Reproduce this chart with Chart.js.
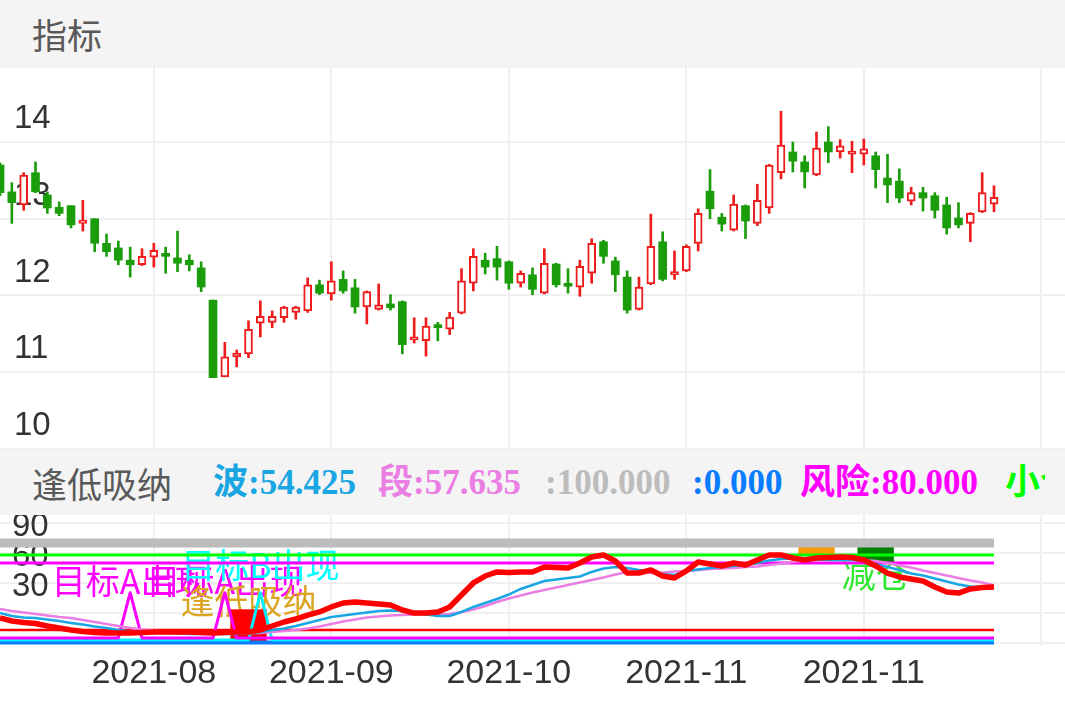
<!DOCTYPE html>
<html>
<head>
<meta charset="utf-8">
<script src="https://cdn.jsdelivr.net/npm/chart.js@4.4.0/dist/chart.umd.min.js"></script>
<style>
  html, body { margin: 0; padding: 0; background: #fff; }
  body { width: 1065px; height: 708px; position: relative; overflow: hidden; font-family: "Noto Sans CJK SC", sans-serif; }
  .bar { position: absolute; left: 0; width: 1065px; background: #f4f4f4; }
  .title { position: absolute; left: 32px; top: 0; font-size: 35px; color: #595959; }
  .legend { position: absolute; left: 0; top: 0; width: 1045px; height: 100%; overflow: hidden; }
  .legend span { position: absolute; top: 0; font: bold 35px "Liberation Serif", "Noto Sans CJK SC", serif; white-space: nowrap; }
  canvas { position: absolute; left: 0; }
</style>
</head>
<body>
<div class="bar" style="top:0;height:68px"><span class="title" style="line-height:68px">指标</span></div>
<canvas id="kline" width="1065" height="382" style="top:68px"></canvas>
<div class="bar" style="top:450px;height:65px">
  <span class="title" style="line-height:65px">逢低吸纳</span>
  <div class="legend" id="legend"></div>
</div>
<canvas id="sub" width="1065" height="193" style="top:515px"></canvas>
<script>
// daily candles
const openVals = [13.70, 13.35, 13.18, 13.60, 13.31, 13.15, 13.17, 12.94, 13.00, 12.68,
  12.62, 12.46, 12.40, 12.50, 12.55, 12.49, 12.46, 12.36, 11.94, 10.94,
  11.20, 11.24, 11.64, 11.65, 11.71, 11.78, 11.80, 12.14, 12.02, 12.21,
  12.10, 11.85, 11.82, 11.89, 11.92, 11.42, 11.41, 11.62, 11.56, 11.77,
  12.16, 12.46, 12.48, 12.44, 12.16, 12.27, 12.03, 12.41, 12.16, 12.11,
  12.29, 12.70, 12.45, 12.24, 11.82, 12.15, 12.70, 12.27, 12.32, 12.68,
  13.36, 13.02, 12.85, 13.17, 12.94, 13.14, 13.60, 13.87, 13.74, 13.57,
  14.00, 13.87, 13.84, 13.84, 13.82, 13.53, 13.49, 13.23, 13.34, 13.30,
  13.18, 13.01, 12.94, 13.09, 13.19];
const highVals = [13.73, 13.47, 13.60, 13.74, 13.35, 13.22, 13.17, 13.24, 13.00, 12.80,
  12.71, 12.63, 12.61, 12.68, 12.63, 12.84, 12.53, 12.44, 11.94, 11.39,
  11.29, 11.67, 11.93, 11.80, 11.86, 11.86, 12.23, 12.20, 12.44, 12.32,
  12.21, 12.06, 12.15, 12.01, 11.93, 11.71, 11.71, 11.65, 11.78, 12.35,
  12.61, 12.55, 12.64, 12.45, 12.32, 12.36, 12.61, 12.42, 12.35, 12.46,
  12.74, 12.72, 12.50, 12.32, 12.24, 13.06, 12.83, 12.58, 12.66, 13.13,
  13.64, 13.07, 13.31, 13.18, 13.45, 13.71, 14.40, 14.00, 13.82, 14.13,
  14.20, 14.03, 14.01, 14.04, 13.87, 13.84, 13.65, 13.41, 13.41, 13.34,
  13.28, 13.21, 13.08, 13.60, 13.43];
const lowVals = [13.30, 12.94, 13.11, 13.34, 13.07, 13.04, 12.88, 12.84, 12.57, 12.51,
  12.40, 12.24, 12.39, 12.37, 12.29, 12.31, 12.32, 12.05, 10.93, 10.94,
  11.07, 11.19, 11.46, 11.58, 11.65, 11.69, 11.78, 12.01, 11.94, 12.03,
  11.77, 11.63, 11.81, 11.81, 11.24, 11.38, 11.21, 11.41, 11.49, 11.76,
  12.06, 12.28, 12.20, 12.08, 12.11, 12.01, 12.02, 12.11, 12.03, 11.99,
  12.16, 12.42, 12.05, 11.77, 11.81, 12.14, 12.19, 12.21, 12.31, 12.58,
  13.00, 12.84, 12.84, 12.74, 12.91, 13.07, 13.52, 13.61, 13.40, 13.56,
  13.73, 13.79, 13.60, 13.70, 13.40, 13.21, 13.21, 13.18, 13.10, 13.01,
  12.80, 12.88, 12.70, 13.08, 13.09];
const closeVals = [13.34, 13.21, 13.57, 13.35, 13.14, 13.07, 12.92, 12.98, 12.68, 12.57,
  12.46, 12.40, 12.51, 12.59, 12.51, 12.42, 12.40, 12.11, 10.93, 11.20,
  11.25, 11.56, 11.73, 11.73, 11.85, 11.85, 12.14, 12.03, 12.19, 12.06,
  11.85, 12.05, 11.88, 11.84, 11.36, 11.46, 11.60, 11.58, 11.72, 12.19,
  12.51, 12.37, 12.37, 12.16, 12.29, 12.08, 12.42, 12.14, 12.12, 12.38,
  12.68, 12.51, 12.27, 11.81, 12.11, 12.64, 12.21, 12.31, 12.64, 13.07,
  13.13, 12.93, 13.19, 12.97, 13.24, 13.70, 13.96, 13.75, 13.61, 13.92,
  13.87, 13.95, 13.88, 13.91, 13.64, 13.44, 13.27, 13.34, 13.27, 13.11,
  12.88, 12.92, 13.07, 13.34, 13.28];

// indicator panel
const mainVals = [24.6, 21.6, 20.1, 19.1, 16.6, 14.6, 12.6, 11.1, 10.1, 9.5,
  9.5, 9.5, 10.1, 10.6, 10.6, 10.6, 10.6, 10.1, 9.5, 10.1,
  10.6, 10.6, 12.6, 16.6, 20.6, 23.6, 27.6, 30.7, 35.7, 39.7,
  40.7, 39.7, 38.7, 37.7, 32.7, 29.6, 29.6, 30.7, 35.7, 47.7,
  59.8, 66.8, 70.9, 70.4, 70.9, 70.9, 75.9, 75.4, 74.9, 79.9,
  85.9, 87.9, 81.9, 69.8, 69.8, 72.9, 66.8, 64.8, 71.9, 80.9,
  78.9, 76.9, 79.9, 77.9, 82.9, 87.9, 87.9, 84.9, 82.9, 84.9,
  85.4, 85.9, 85.4, 82.9, 76.9, 69.8, 65.8, 63.8, 61.8, 55.8,
  50.8, 49.7, 53.8, 55.3, 55.8];
const waveVals = [29.6, 26.6, 25.1, 24.6, 23.1, 21.6, 19.6, 18.1, 16.1, 14.6,
  12.6, 11.1, 10.1, 9.5, 9.5, 9.0, 8.5, 8.5, 8.5, 8.5,
  8.5, 9.0, 10.6, 12.6, 14.1, 16.6, 19.6, 22.6, 25.6, 27.1,
  28.6, 30.2, 31.7, 32.2, 31.7, 30.2, 28.1, 26.6, 26.6, 30.7,
  35.7, 39.7, 43.7, 48.2, 53.8, 57.8, 61.8, 63.3, 64.8, 66.3,
  70.9, 74.4, 75.9, 74.9, 72.9, 71.4, 68.8, 67.8, 71.9, 73.4,
  74.9, 75.9, 76.9, 77.9, 79.9, 82.4, 83.9, 84.4, 84.4, 83.4,
  82.9, 82.9, 82.9, 81.9, 78.9, 75.9, 72.9, 69.3, 67.3, 64.3,
  61.3, 58.3, 56.3, 55.3, 54.425];
const bandVals = [33.7, 31.7, 30.2, 28.6, 27.1, 25.6, 24.6, 22.6, 20.6, 18.6,
  16.6, 14.6, 13.1, 12.1, 10.6, 10.1, 9.5, 9.5, 9.0, 9.0,
  9.0, 9.0, 9.5, 10.6, 11.6, 12.6, 14.1, 16.1, 18.6, 21.1,
  23.1, 25.1, 26.1, 27.1, 27.6, 28.1, 28.1, 28.1, 28.6, 30.7,
  33.2, 36.7, 40.7, 44.2, 47.2, 50.3, 52.8, 55.3, 57.8, 60.3,
  62.8, 65.3, 68.3, 70.9, 70.4, 69.8, 70.4, 71.4, 71.9, 72.9,
  73.9, 74.4, 74.9, 75.9, 76.4, 77.9, 79.4, 80.9, 82.4, 82.9,
  83.4, 83.6, 83.4, 82.9, 81.9, 79.9, 77.4, 75.4, 72.4, 69.8,
  67.3, 64.8, 62.3, 60.3, 57.635];
// "目标A" / "目标B" signal lines (spikes)
const targetAVals = [4.5, 4.5, 4.5, 4.5, 4.5, 4.5, 4.5, 4.5, 4.5, 4.5,
  4.5, 50, 4.5, 4.5, 4.5, 4.5, 4.5, 4.5, 4.5, 50,
  4.5, 4.5, 4.5, 4.5, 4.5, 4.5, 4.5, 4.5, 4.5, 4.5,
  4.5, 4.5, 4.5, 4.5, 4.5, 4.5, 4.5, 4.5, 4.5, 4.5,
  4.5, 4.5, 4.5, 4.5, 4.5, 4.5, 4.5, 4.5, 4.5, 4.5,
  4.5, 4.5, 4.5, 4.5, 4.5, 4.5, 4.5, 4.5, 4.5, 4.5,
  4.5, 4.5, 4.5, 4.5, 4.5, 4.5, 4.5, 4.5, 4.5, 4.5,
  4.5, 4.5, 4.5, 4.5, 4.5, 4.5, 4.5, 4.5, 4.5, 4.5,
  4.5, 4.5, 4.5, 4.5, 4.5];
const targetBVals = [2.5, 2.5, 2.5, 2.5, 2.5, 2.5, 2.5, 2.5, 2.5, 2.5,
  2.5, 2.5, 2.5, 2.5, 2.5, 2.5, 2.5, 2.5, 2.5, 2.5,
  2.5, 2.5, 50, 2.5, 2.5, 2.5, 2.5, 2.5, 2.5, 2.5,
  2.5, 2.5, 2.5, 2.5, 2.5, 2.5, 2.5, 2.5, 2.5, 2.5,
  2.5, 2.5, 2.5, 2.5, 2.5, 2.5, 2.5, 2.5, 2.5, 2.5,
  2.5, 2.5, 2.5, 2.5, 2.5, 2.5, 2.5, 2.5, 2.5, 2.5,
  2.5, 2.5, 2.5, 2.5, 2.5, 2.5, 2.5, 2.5, 2.5, 2.5,
  2.5, 2.5, 2.5, 2.5, 2.5, 2.5, 2.5, 2.5, 2.5, 2.5,
  2.5, 2.5, 2.5, 2.5, 2.5];
// signal bars: [day, from, to]
const buyBars = [[20, 0, 33], [21, 0, 33], [22, 0, 33]];
const warnBars = [[68, 88, 100], [69, 88, 100], [70, 88, 100]];
const cutBars = [[73, 80, 100], [74, 80, 100], [75, 80, 100]];
// level lines
const levelTop = 100, levelSmall = 88, levelRisk = 80, levelLow = 12.5, levelZero = 0;

// text marks on the indicator panel
const noteIdx = [11, 19, 22, 21, 74];
const noteVal = [62, 62, 78, 42, 68];
const noteText = ['目标A出现', '目标A出现', '目标B出现', '逢低吸纳', '减仓'];

// axes
const priceTicks = [10, 11, 12, 13, 14];
const subTicks = [0, 30, 60, 90, 120];
const subLabels = [30, 60, 90];
const xTickIdx = [13, 28, 43, 58, 73, 88];
const xTickLabels = ['2021-08', '2021-09', '2021-10', '2021-11', '2021-11', ''];

const RED = '#ee1c1c', GREEN = '#1a9c0b', GRID = '#f0f0f0';
Chart.defaults.font.family = '"Liberation Sans", Arial, sans-serif';

const dayIdx = openVals.map((_, i) => i);
const lastDay = dayIdx.length - 1;
const isUp = i => closeVals[i] >= openVals[i];

const xGrid = { color: GRID, lineWidth: 2, drawTicks: false, offset: false };
// keep the plot area flush with the canvas edges
const noPadY = s => { s.width = 0; s.paddingTop = 0; s.paddingBottom = 0; };
const noPadX = h => s => { s.height = h; s.paddingLeft = 0; s.paddingRight = 0; };

new Chart(document.getElementById('kline'), {
    type: 'bar',
    data: {
        datasets: [
            {
                data: dayIdx.map(i => ({ x: i, y: [openVals[i], closeVals[i]] })),
                backgroundColor: dayIdx.map(i => isUp(i) ? '#ffffff' : GREEN),
                borderColor: dayIdx.map(i => isUp(i) ? RED : GREEN),
                borderWidth: dayIdx.map(i => isUp(i) ? 2 : 0),
                borderSkipped: false,
                barThickness: 8,
                grouped: false,
                order: 0,
            },
            {
                data: dayIdx.map(i => ({ x: i, y: [lowVals[i], highVals[i]] })),
                backgroundColor: dayIdx.map(i => isUp(i) ? RED : GREEN),
                barThickness: 2,
                grouped: false,
                order: 1,
            },
        ],
    },
    options: {
        responsive: false,
        animation: false,
        events: [],
        layout: { padding: 0 },
        plugins: { legend: { display: false }, tooltip: { enabled: false } },
        scales: {
            x: {
                type: 'linear', min: 0, max: 90, offset: false,
                afterBuildTicks: s => { s.ticks = xTickIdx.map(v => ({ value: v })); },
                afterFit: noPadX(0),
                ticks: { display: false },
                grid: xGrid,
                border: { display: false },
            },
            y: {
                type: 'linear', min: 9.987, max: 14.964, beginAtZero: false,
                afterBuildTicks: s => { s.ticks = priceTicks.map(v => ({ value: v })); },
                afterFit: noPadY,
                ticks: { mirror: true, autoSkip: false, padding: 14, labelOffset: -23, color: '#333', font: { size: 33 }, callback: v => v },
                grid: { color: GRID, lineWidth: 2, drawTicks: false },
                border: { display: false },
            },
        },
    },
});

// text marks drawn under the lines
const noteColors = ['#ff00ff', '#ff00ff', '#00ffff', '#daa520', '#2ee82e'];
const notesPlugin = {
    id: 'notes',
    beforeDatasetsDraw(chart) {
        const { ctx, scales: { x, y } } = chart;
        ctx.save();
        ctx.font = '34px "Noto Sans CJK SC"';
        ctx.textAlign = 'center';
        ctx.textBaseline = 'middle';
        noteText.forEach((t, i) => {
            ctx.fillStyle = noteColors[i];
            ctx.fillText(t, x.getPixelForValue(noteIdx[i]), y.getPixelForValue(noteVal[i]));
        });
        ctx.restore();
    },
};

const series = vals => vals.map((v, i) => ({ x: i, y: v }));
const level = v => [{ x: 0, y: v }, { x: lastDay, y: v }];
const barsOf = list => list.map(b => ({ x: b[0], y: [b[1], b[2]] }));
const lineDs = (data, color, width, order) => ({
    type: 'line', data, borderColor: color, borderWidth: width,
    pointRadius: 0, tension: 0, fill: false, borderJoinStyle: 'round', order,
});
const barDs = (data, color) => ({
    type: 'bar', data, backgroundColor: color, barThickness: 12, grouped: false, order: 9,
});

new Chart(document.getElementById('sub'), {
    type: 'line',
    data: {
        datasets: [
            lineDs(series(mainVals), '#ff0000', 5.5, 1),
            lineDs(series(waveVals), '#1aa6e2', 2.5, 2),
            lineDs(series(bandVals), '#ea7ee3', 2.5, 3),
            lineDs(series(targetAVals), '#ff00ff', 3, 4),
            lineDs(series(targetBVals), '#00f0ff', 3, 4),
            lineDs(level(levelZero), '#0a7cff', 4, 5),
            lineDs(level(levelLow), '#ff0000', 2.5, 6),
            lineDs(level(levelRisk), '#ff00ff', 3, 6),
            lineDs(level(levelSmall), '#00ff00', 3, 6),
            lineDs(level(levelTop), '#bcbcbc', 9, 7),
            barDs(barsOf(buyBars), '#ff0000'),
            barDs(barsOf(warnBars), '#ff9900'),
            barDs(barsOf(cutBars), '#007f00'),
        ],
    },
    options: {
        responsive: false,
        animation: false,
        events: [],
        layout: { padding: 0 },
        plugins: { legend: { display: false }, tooltip: { enabled: false } },
        scales: {
            x: {
                type: 'linear', min: 0, max: 90, offset: false,
                afterBuildTicks: s => { s.ticks = xTickIdx.map(v => ({ value: v })); },
                afterFit: noPadX(62),
                ticks: {
                    autoSkip: false, maxRotation: 0, padding: 7, color: '#333', font: { size: 34 },
                    callback: v => xTickLabels[xTickIdx.indexOf(v)],
                },
                grid: xGrid,
                border: { display: false },
            },
            y: {
                type: 'linear', min: -3.5, max: 128.1, beginAtZero: false,
                afterBuildTicks: s => { s.ticks = subTicks.map(v => ({ value: v })); },
                afterFit: noPadY,
                ticks: {
                    mirror: true, autoSkip: false, padding: 12, labelOffset: -26, color: '#333', font: { size: 33 },
                    callback: v => subLabels.includes(v) ? v : '',
                },
                grid: { color: GRID, lineWidth: 2, drawTicks: false },
                border: { display: false },
            },
        },
    },
    plugins: [notesPlugin],
});

// panel header values come from the last points of the series
const legendItems = [
    { text: '波:' + waveVals[lastDay].toFixed(3), color: '#1aa6e2', left: 213 },
    { text: '段:' + bandVals[lastDay].toFixed(3), color: '#ea7ee3', left: 378 },
    { text: ':' + levelTop.toFixed(3), color: '#bcbcbc', left: 545 },
    { text: ':' + levelZero.toFixed(3), color: '#0a7cff', left: 692 },
    { text: '风险:' + levelRisk.toFixed(3), color: '#ff00ff', left: 800 },
    { text: '小仓:' + levelSmall.toFixed(3), color: '#00ff00', left: 1005 },
];
const legend = document.getElementById('legend');
legendItems.forEach(item => {
    const s = document.createElement('span');
    s.textContent = item.text;
    s.style.color = item.color;
    s.style.left = item.left + 'px';
    s.style.lineHeight = '65px';
    legend.appendChild(s);
});
</script>
</body>
</html>
